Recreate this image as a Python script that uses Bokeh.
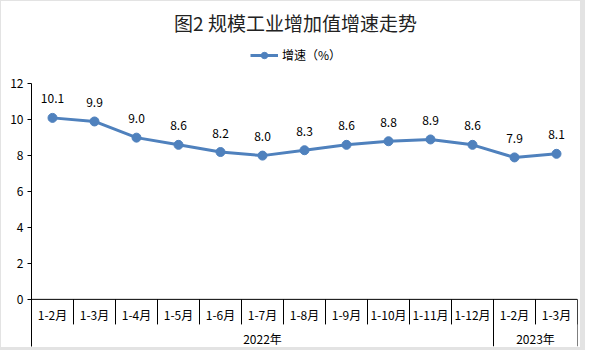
from bokeh.plotting import figure
from bokeh.models import (Range1d, FixedTicker, Label, Legend, LegendItem, ColumnDataSource)
from bokeh.core.properties import value
from bokeh.embed import file_html
from bokeh.resources import INLINE

title = "图2 规模工业增加值增速走势"
series_name = "增速（%）"
months = ["1-2月", "1-3月", "1-4月", "1-5月", "1-6月", "1-7月", "1-8月",
          "1-9月", "1-10月", "1-11月", "1-12月", "1-2月", "1-3月"]
years = ["2022年", "2023年"]
year_counts = [11, 2]
growth = [10.1, 9.9, 9.0, 8.6, 8.2, 8.0, 8.3, 8.6, 8.8, 8.9, 8.6, 7.9, 8.1]
y_ticks = [0, 2, 4, 6, 8, 10, 12]

FONT = "Noto Sans CJK SC"
BLUE = "#4f81bd"
EDGE = "#e3e3e3"
N = len(months)

# layout constants (styling), pixel based
PX = (298 - 83) / 12.0           # pixels per unit
Y_MAX = 12
Y_TOP = Y_MAX + 82 / PX          # frame extends to canvas top
Y_BOTTOM = -(345 - 298) / PX
TICK_DEPTH = -25 / PX

p = figure(width=585, height=350, output_backend="svg", toolbar_location=None,
           x_range=Range1d(0, N), y_range=Range1d(Y_BOTTOM, Y_TOP),
           min_border_left=30, min_border_right=9, min_border_top=0, min_border_bottom=5,
           styles={"border-left": f"1px solid {EDGE}", "border-top": f"1px solid {EDGE}",
                   "border-right": f"5px solid {EDGE}", "border-bottom": f"3px solid {EDGE}"})
p.outline_line_color = None
p.grid.visible = False
p.xaxis.visible = False
p.background_fill_color = "white"
p.border_fill_color = "white"

ya = p.yaxis[0]
ya.ticker = FixedTicker(ticks=y_ticks)
ya.bounds = (Y_BOTTOM, Y_MAX)
ya.major_tick_in = 0
ya.major_tick_out = 4
ya.minor_tick_line_color = None
ya.axis_line_color = "black"
ya.major_tick_line_color = "black"
ya.major_label_text_font = FONT
ya.major_label_text_font_size = "12px"
ya.major_label_text_color = "black"
ya.major_label_standoff = 4

xs = [i + 0.5 for i in range(N)]
src = ColumnDataSource(dict(x=xs, y=growth, lab=[f"{v:.1f}" for v in growth], m=months))

# x axis line at 0
p.segment(x0=[0], y0=[0], x1=[N], y1=[0], line_color="black", line_width=1)

# month separators
sep_x = list(range(1, N + 1))
p.segment(x0=sep_x, y0=[0] * len(sep_x), x1=sep_x, y1=[TICK_DEPTH] * len(sep_x),
          line_color="black", line_width=1)
# year separators
bounds = [0]
for c in year_counts:
    bounds.append(bounds[-1] + c)
p.segment(x0=bounds[1:], y0=[0] * (len(bounds) - 1), x1=bounds[1:], y1=[Y_BOTTOM] * (len(bounds) - 1),
          line_color="black", line_width=1)

# month labels
p.text(x="x", y=0, text="m", source=src, text_align="center", text_baseline="middle",
       y_offset=15, text_font=value(FONT), text_font_size="12px", text_color="black")
# year labels
yx = [(bounds[i] + bounds[i + 1]) / 2 for i in range(len(years))]
p.text(x=yx, y=[0] * len(years), text=years, text_align="center", text_baseline="middle",
       y_offset=39, text_font=value(FONT), text_font_size="12px", text_color="black")

line_r = p.line("x", "y", source=src, line_color=BLUE, line_width=3)
circ_r = p.scatter("x", "y", source=src, size=9, fill_color=BLUE, line_color=BLUE)

p.text(x="x", y="y", text="lab", source=src, text_align="center", text_baseline="middle",
       y_offset=-19, text_font=value(FONT), text_font_size="12px", text_color="black")

p.add_layout(Label(x=264, y=324, x_units="screen", y_units="screen", text=title,
                   text_align="center", text_baseline="middle", text_font=FONT,
                   text_font_size="19px", text_color="#222222"))

leg = Legend(items=[LegendItem(label=series_name, renderers=[line_r, circ_r])],
             location=(219, 283), glyph_width=28, glyph_height=16, label_standoff=4,
             label_text_font=FONT, label_text_font_size="12px", label_text_color="black",
             border_line_color=None, background_fill_alpha=0, padding=0, margin=0,
             label_height=16)
p.add_layout(leg, "center")

open("out.html", "w").write(file_html(p, INLINE))
